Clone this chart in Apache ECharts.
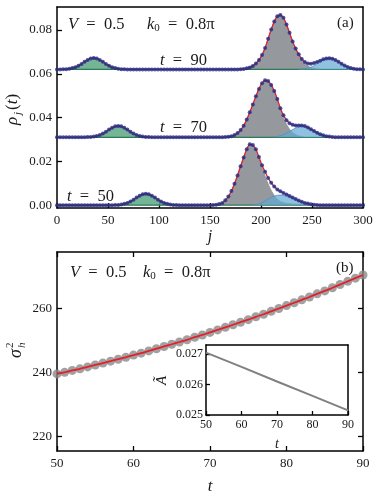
<!DOCTYPE html>
<html>
<head>
<meta charset="utf-8">
<script src="https://cdn.jsdelivr.net/npm/echarts@6/dist/echarts.min.js"></script>
<style>
html, body { margin: 0; padding: 0; background: #fff; }
#chart { width: 381px; height: 496px; }
</style>
</head>
<body>
<div id="chart"></div>
<script>
// ---------- panel (a): rho_j(t), one point every 3 sites ----------
const sites = [];
for (let j = 0; j <= 300; j += 3) sites.push(j);

const offset50 = 0, offset70 = 0.031, offset90 = 0.062;

// measured densities (dots + fit), j = 0..300 step 3
const rho50 = [0,0,0,0,0,0,0,0,0,0,0,0,0,0,0,0,0,0,0,
  0.0001,0.0001,0.0003,0.0006,0.001,0.0017,0.0025,0.0035,0.0043,0.005,0.0052,0.005,0.0043,0.0035,0.0025,0.0017,0.001,0.0006,0.0003,0.0001,0.0001,
  0,0,0,0,0,0,0,0,0,0,0,
  0.0001,0.0002,0.0005,0.001,0.0022,0.004,0.0065,0.0098,0.0136,0.0178,0.0218,0.0255,0.0278,0.0275,0.0255,0.022,0.0182,0.0152,0.0124,0.0102,0.0085,0.0072,0.0063,0.0056,0.0049,0.0042,0.0035,0.0028,0.0021,0.0015,0.001,0.0007,0.0004,0.0002,0.0001,
  0,0,0,0,0,0,0,0,0,0,0,0,0,0,0];
const rho70 = [0,0,0,0,0,0,0,0,0,0,
  0.0001,0.0001,0.0003,0.0006,0.001,0.0017,0.0025,0.0035,0.0043,0.005,0.0052,0.005,0.0043,0.0035,0.0025,0.0017,0.001,0.0006,0.0003,0.0001,0.0001,
  0,0,0,0,0,0,0,0,0,0,0,0,0,0,0,0,0,0,0,0,0,0,0,0,
  0.0001,0.0002,0.0005,0.001,0.0019,0.0033,0.0053,0.0081,0.0114,0.015,0.0187,0.0221,0.0247,0.026,0.0257,0.0239,0.0211,0.0175,0.0133,0.0101,0.0078,0.0064,0.0057,0.0054,0.0054,0.0054,0.0051,0.0045,0.0037,0.0029,0.0021,0.0014,0.0009,0.0005,0.0003,0.0001,
  0,0,0,0,0,0,0,0,0,0];
const rho90 = [0,0,
  0.0001,0.0001,0.0003,0.0006,0.001,0.0017,0.0025,0.0035,0.0043,0.005,0.0052,0.005,0.0043,0.0035,0.0025,0.0017,0.001,0.0006,0.0003,0.0001,0.0001,
  0,0,0,0,0,0,0,0,0,0,0,0,0,0,0,0,0,0,0,0,0,0,0,0,0,0,0,0,0,0,0,0,0,0,0,0,0,
  0.0001,0.0002,0.0005,0.0009,0.0016,0.0027,0.0043,0.0066,0.0098,0.014,0.0182,0.0219,0.0243,0.0249,0.0236,0.0205,0.0167,0.0128,0.0095,0.0069,0.0048,0.0034,0.0027,0.0026,0.0029,0.0034,0.004,0.0046,0.005,0.0051,0.0049,0.0043,0.0035,0.0026,0.0018,0.0011,0.0006,0.0003,0.0001,0.0001,0];

// fitted components: first site + values every 3 sites
const green50Start = 57, green50 = [0.0001,0.0001,0.0003,0.0006,0.001,0.0017,0.0025,0.0035,0.0043,0.005,0.0052,0.005,0.0043,0.0035,0.0025,0.0017,0.001,0.0006,0.0003,0.0001,0.0001];
const gray50Start = 153, gray50 = [0.0001,0.0002,0.0005,0.001,0.0022,0.004,0.0065,0.0098,0.0136,0.0178,0.0218,0.0254,0.0277,0.0274,0.0252,0.0214,0.0171,0.0133,0.0097,0.0067,0.0044,0.0027,0.0017,0.0011,0.0008,0.0006,0.0005,0.0004,0.0003,0.0002,0.0001];
const blue50Start = 192, blue50 = [0.0001,0.0003,0.0006,0.0011,0.0019,0.0027,0.0035,0.0041,0.0045,0.0046,0.0045,0.0041,0.0036,0.003,0.0024,0.0018,0.0013,0.0009,0.0006,0.0004,0.0002,0.0001];

const green70Start = 30, green70 = [0.0001,0.0001,0.0003,0.0006,0.001,0.0017,0.0025,0.0035,0.0043,0.005,0.0052,0.005,0.0043,0.0035,0.0025,0.0017,0.001,0.0006,0.0003,0.0001,0.0001];
const gray70Start = 165, gray70 = [0.0001,0.0002,0.0005,0.001,0.0019,0.0033,0.0053,0.0081,0.0114,0.015,0.0187,0.0221,0.0247,0.026,0.0257,0.0238,0.0209,0.0171,0.0126,0.0089,0.0059,0.0037,0.0022,0.0012,0.0006,0.0003,0.0001];
const blue70Start = 213, blue70 = [0.0002,0.0004,0.0007,0.0012,0.0019,0.0027,0.0035,0.0042,0.0048,0.0051,0.005,0.0045,0.0037,0.0029,0.0021,0.0014,0.0009,0.0005,0.0003,0.0001];

const green90Start = 6, green90 = [0.0001,0.0001,0.0003,0.0006,0.001,0.0017,0.0025,0.0035,0.0043,0.005,0.0052,0.005,0.0043,0.0035,0.0025,0.0017,0.001,0.0006,0.0003,0.0001,0.0001];
const gray90Start = 180, gray90 = [0.0001,0.0002,0.0005,0.0009,0.0016,0.0027,0.0043,0.0066,0.0098,0.014,0.0182,0.0219,0.0243,0.0249,0.0236,0.0205,0.0167,0.0128,0.0094,0.0066,0.0043,0.0026,0.0015,0.0008,0.0004,0.0002,0.0001];
const blue90Start = 237, blue90 = [0.0001,0.0002,0.0003,0.0006,0.001,0.0017,0.0025,0.0034,0.0043,0.0049,0.0051,0.0049,0.0043,0.0034,0.0025,0.0017,0.001,0.0006,0.0003,0.0001,0.0001];

const rhoTicks = [0, 0.02, 0.04, 0.06, 0.08];

// ---------- panel (b): sigma_h^2(t) and inset A~(t) ----------
const times = [50,51,52,53,54,55,56,57,58,59,60,61,62,63,64,65,66,67,68,69,70,
  71,72,73,74,75,76,77,78,79,80,81,82,83,84,85,86,87,88,89,90];
const sigma2 = [239.5,240.0,240.6,241.1,241.7,242.3,242.9,243.5,244.1,244.7,245.4,
  246.0,246.7,247.4,248.1,248.8,249.5,250.2,251.0,251.7,252.5,
  253.3,254.1,254.9,255.7,256.5,257.4,258.2,259.1,260.0,260.9,
  261.8,262.7,263.6,264.6,265.5,266.5,267.5,268.5,269.5,270.5];
const sigmaTicks = [220, 240, 260];

const insetTimes = [50, 60, 70, 80, 90];
const insetA = [0.02705, 0.02658, 0.0261, 0.02563, 0.02515];

const FONT = 'Liberation Serif';
const INK = '#1a1a1a';

function atSites(vals, start, off) {
  return vals.map((v, i) => [start + 3 * i, v + off]);
}

function areaSeries(vals, start, off, fill, edge, z) {
  return {
    type: 'line', xAxisIndex: 0, yAxisIndex: 0, z: z,
    data: atSites(vals, start, off),
    smooth: 0.3, showSymbol: false, silent: true,
    lineStyle: { color: edge, width: 0.8 },
    areaStyle: { color: fill, origin: off, opacity: 1 }
  };
}

function profileSeries(rho, off, green, gStart, gray, grStart, blue, bStart) {
  return [
    {
      // zero level of the green component, across the whole chain
      type: 'line', xAxisIndex: 0, yAxisIndex: 0, z: 2, silent: true,
      data: [[sites[0], off], [sites[sites.length - 1], off]], showSymbol: false,
      lineStyle: { color: '#2c7a57', width: 1.3 }
    },
    areaSeries(green, gStart, off, 'rgba(92,168,132,0.85)', '#2c7a57', 2),
    areaSeries(gray, grStart, off, 'rgba(140,144,150,0.92)', '#8a8e94', 2),
    areaSeries(blue, bStart, off, 'rgba(96,168,212,0.7)', '#4f8fb8', 3),
    {
      type: 'line', xAxisIndex: 0, yAxisIndex: 0, z: 5,
      data: atSites(rho, 0, off), smooth: 0.3, showSymbol: false,
      lineStyle: { color: '#e3202a', width: 1.3 }
    },
    {
      type: 'scatter', xAxisIndex: 0, yAxisIndex: 0, z: 6,
      data: atSites(rho, 0, off), symbolSize: 4,
      itemStyle: { color: '#1f2d88' }
    }
  ];
}

const axisLineStyle = { show: true, onZero: false, lineStyle: { color: '#000', width: 1.5 } };
const tickStyle = { show: true, inside: true, length: 5, lineStyle: { color: '#000', width: 1.3 } };
const labelStyle = { color: INK, fontFamily: FONT, fontSize: 13 };

function frame(gridIndex, position, extra) {
  return Object.assign({
    gridIndex: gridIndex, type: 'value', position: position,
    axisLine: axisLineStyle, axisTick: { show: false }, axisLabel: { show: false },
    splitLine: { show: false }
  }, extra || {});
}

function txt(x, y, rich, text, size, align) {
  return {
    type: 'text', x: x, y: y, silent: true,
    style: {
      text: text, fill: INK, fontFamily: FONT, fontSize: size || 16.5,
      align: align || 'left', verticalAlign: 'middle',
      rich: rich
    }
  };
}

const richIt = {
  i: { fontStyle: 'italic', fontFamily: FONT, fontSize: 16.5, fill: INK },
  s: { fontFamily: FONT, fontSize: 11, fill: INK, verticalAlign: 'bottom', lineHeight: 13 }
};

const option = {
  animation: false,
  backgroundColor: '#fff',
  grid: [
    { left: 57, top: 7, width: 306, height: 201 },
    { left: 57, top: 252, width: 306, height: 201 },
    { left: 206, top: 345, width: 142, height: 70, show: true, backgroundColor: '#fff', borderWidth: 0, z: 10 }
  ],
  xAxis: [
    {
      gridIndex: 0, type: 'value', min: 0, max: 300, interval: 50,
      axisLine: axisLineStyle, axisTick: tickStyle,
      axisLabel: Object.assign({ margin: 6 }, labelStyle), splitLine: { show: false },
      name: 'j', nameLocation: 'middle', nameGap: 21,
      nameTextStyle: { fontFamily: FONT, fontStyle: 'italic', fontSize: 16, color: INK }
    },
    frame(0, 'top', { min: 0, max: 300 }),
    {
      gridIndex: 1, type: 'value', min: 50, max: 90, interval: 10,
      axisLine: axisLineStyle, axisTick: tickStyle,
      axisLabel: Object.assign({ margin: 6 }, labelStyle), splitLine: { show: false },
      name: 't', nameLocation: 'middle', nameGap: 27,
      nameTextStyle: { fontFamily: FONT, fontStyle: 'italic', fontSize: 17, color: INK }
    },
    frame(1, 'top', { min: 50, max: 90, interval: 10, axisTick: tickStyle }),
    {
      gridIndex: 2, type: 'value', min: 50, max: 90, interval: 10, z: 11,
      axisLine: axisLineStyle, axisTick: Object.assign({}, tickStyle, { length: 4 }),
      axisLabel: { color: INK, fontFamily: FONT, fontSize: 12, margin: 4 }, splitLine: { show: false },
      name: 't', nameLocation: 'middle', nameGap: 22,
      nameTextStyle: { fontFamily: FONT, fontStyle: 'italic', fontSize: 14, color: INK }
    },
    frame(2, 'top', { min: 50, max: 90, z: 11 })
  ],
  yAxis: [
    {
      gridIndex: 0, type: 'value', min: -0.0013, max: 0.0905,
      axisLine: axisLineStyle,
      axisTick: Object.assign({ customValues: rhoTicks }, tickStyle),
      axisLabel: Object.assign({ customValues: rhoTicks, margin: 5, formatter: v => v.toFixed(2) }, labelStyle),
      splitLine: { show: false }
    },
    frame(0, 'right', { min: -0.0013, max: 0.0905 }),
    {
      gridIndex: 1, type: 'value', min: 215.35, max: 277.7,
      axisLine: axisLineStyle,
      axisTick: Object.assign({ customValues: sigmaTicks }, tickStyle),
      axisLabel: Object.assign({ customValues: sigmaTicks, margin: 5 }, labelStyle),
      splitLine: { show: false }
    },
    frame(1, 'right', { min: 215.35, max: 277.7, axisTick: Object.assign({ customValues: sigmaTicks }, tickStyle) }),
    {
      gridIndex: 2, type: 'value', min: 0.025, max: 0.0273, interval: 0.001, z: 11,
      axisLine: axisLineStyle, axisTick: Object.assign({}, tickStyle, { length: 4 }),
      axisLabel: { color: INK, fontFamily: FONT, fontSize: 12, margin: 3, formatter: v => v.toFixed(3) },
      splitLine: { show: false }
    },
    frame(2, 'right', { min: 0.025, max: 0.0273, z: 11 })
  ],
  series: [].concat(
    profileSeries(rho50, offset50, green50, green50Start, gray50, gray50Start, blue50, blue50Start),
    profileSeries(rho70, offset70, green70, green70Start, gray70, gray70Start, blue70, blue70Start),
    profileSeries(rho90, offset90, green90, green90Start, gray90, gray90Start, blue90, blue90Start),
    [
      {
        type: 'scatter', xAxisIndex: 2, yAxisIndex: 2, z: 3,
        data: times.map((t, i) => [t, sigma2[i]]), symbolSize: 9,
        itemStyle: { color: '#8a8a8a' }
      },
      {
        type: 'line', xAxisIndex: 2, yAxisIndex: 2, z: 4,
        data: times.map((t, i) => [t, sigma2[i]]), smooth: true, showSymbol: false,
        lineStyle: { color: '#e3202a', width: 1.8 }
      },
      {
        type: 'line', xAxisIndex: 4, yAxisIndex: 4, z: 12,
        data: insetTimes.map((t, i) => [t, insetA[i]]), showSymbol: false,
        lineStyle: { color: '#808080', width: 2 }
      }
    ]
  ),
  graphic: [
    // panel (a) annotations
    txt(68, 25, richIt, '{i|V}  =  0.5'),
    txt(147, 25, richIt, '{i|k}{s|0}  =  0.8π'),
    txt(337, 23, richIt, '(a)', 15),
    txt(160, 61, richIt, '{i|t}  =  90'),
    txt(160, 128, richIt, '{i|t}  =  70'),
    txt(67, 197, richIt, '{i|t}  =  50'),
    // panel (b) annotations
    txt(70, 273, richIt, '{i|V}  =  0.5'),
    txt(143, 273, richIt, '{i|k}{s|0}  =  0.8π'),
    txt(336, 268, richIt, '(b)', 15),
    // rotated y labels
    {
      type: 'group', x: 13, y: 125, rotation: Math.PI / 2, silent: true,
      children: [
        { type: 'text', x: 0, y: 0, style: { text: 'ρ', fontFamily: FONT, fontStyle: 'italic', fontSize: 17, fill: INK, verticalAlign: 'middle' } },
        { type: 'text', x: 10, y: 5, style: { text: 'j', fontFamily: FONT, fontStyle: 'italic', fontSize: 11, fill: INK, verticalAlign: 'middle' } },
        { type: 'text', x: 15, y: 0, style: { text: '({i|t})', fontFamily: FONT, fontSize: 17, fill: INK, verticalAlign: 'middle',
          rich: { i: { fontFamily: FONT, fontStyle: 'italic', fontSize: 17, fill: INK } } } }
      ]
    },
    {
      type: 'group', x: 16, y: 358, rotation: Math.PI / 2, silent: true,
      children: [
        { type: 'text', x: 0, y: 0, style: { text: 'σ', fontFamily: FONT, fontStyle: 'italic', fontSize: 18, fill: INK, verticalAlign: 'middle' } },
        { type: 'text', x: 10, y: -6, style: { text: '2', fontFamily: FONT, fontSize: 11, fill: INK, verticalAlign: 'middle' } },
        { type: 'text', x: 10, y: 6, style: { text: 'h', fontFamily: FONT, fontStyle: 'italic', fontSize: 11, fill: INK, verticalAlign: 'middle' } }
      ]
    },
    {
      type: 'group', x: 162, y: 385, rotation: Math.PI / 2, silent: true, z: 20,
      children: [
        { type: 'text', x: 0, y: 0, style: { text: 'Ã', fontFamily: FONT, fontStyle: 'italic', fontSize: 15, fill: INK, verticalAlign: 'middle' } }
      ]
    }
  ]
};

const chart = echarts.init(document.getElementById('chart'));
chart.setOption(option);
</script>
</body>
</html>
